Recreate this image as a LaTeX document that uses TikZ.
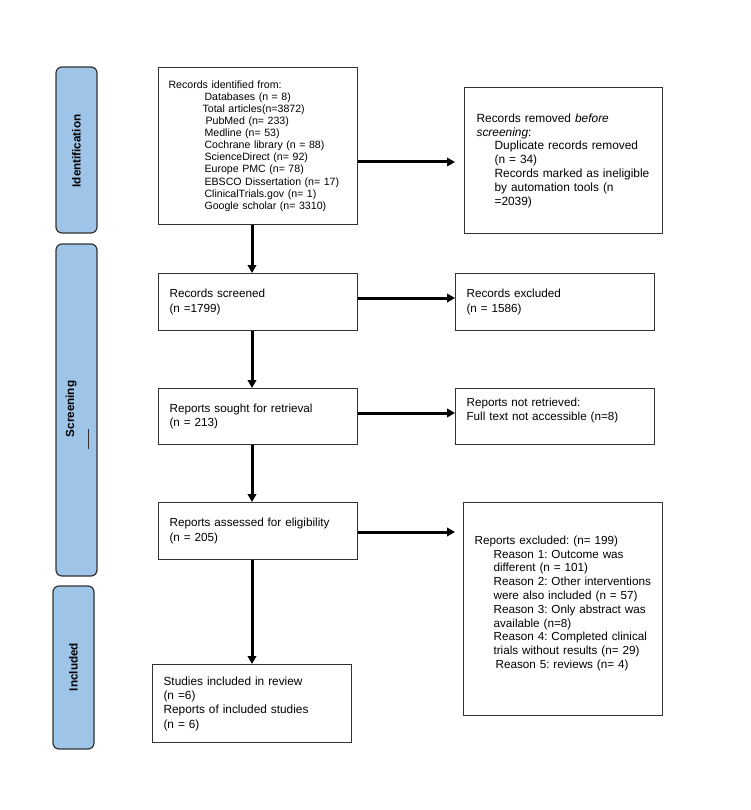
\documentclass[tikz,border=0pt]{standalone}
\usepackage{fontspec}
\setmainfont{Liberation Sans}
\usetikzlibrary{arrows.meta}
\definecolor{tabblue}{RGB}{158,196,231}
\definecolor{edge}{RGB}{50,50,50}
\frenchspacing
\begin{document}
\begin{tikzpicture}[x=1pt,y=-1pt,
  tabbox/.style={draw=edge, line width=1.2pt, fill=tabblue, rounded corners=6pt},
  tablabel/.style={rotate=90, font=\bfseries\fontsize{11.7}{13}\selectfont, inner sep=0pt},
  flowbox/.style={draw=edge, line width=1.1pt, anchor=north west, align=left, inner ysep=0pt},
  arr/.style={line width=3pt, -{Triangle[length=8pt,width=8.5pt]}}]
\useasboundingbox (0,0) rectangle (750,810);

% side tabs
\draw[tabbox] (56,67) rectangle (97,233);
\draw[tabbox] (56,244) rectangle (97,576);
\draw[tabbox] (53,586) rectangle (94,749);
\node[tablabel] (tident) at (76.5,151) {Identification};
\node[tablabel] (tscreen) at (71,409) {Screening};
\node[tablabel] (tincl) at (73.5,667) {Included};
\draw[edge, line width=1pt] (88,429) -- (88,449);

% boxes
\node[flowbox, minimum width=199pt, minimum height=157pt, inner xsep=10pt, text width=179pt,
  font=\fontsize{10.6}{12.1}\selectfont] (box1) at (158,67)
{Records identified from:\\
\hspace*{36pt}Databases (n = 8)\\
\hspace*{34pt}Total articles(n=3872)\\
\hspace*{37pt}PubMed (n= 233)\\
\hspace*{36pt}Medline (n= 53)\\
\hspace*{36pt}Cochrane library (n = 88)\\
\hspace*{36pt}ScienceDirect (n= 92)\\
\hspace*{36pt}Europe PMC (n= 78)\\
\hspace*{36pt}\mbox{EBSCO Dissertation (n= 17)}\\
\hspace*{36pt}ClinicalTrials.gov (n= 1)\\
\hspace*{36pt}Google scholar (n= 3310)};

\node[flowbox, minimum width=198pt, minimum height=146pt, inner xsep=12pt, text width=174pt,
  font=\fontsize{11.9}{13.8}\selectfont] (removed) at (464,87)
{Records removed \textit{before}\\
\textit{screening}:\\
\hspace*{18pt}\mbox{Duplicate records removed}\\
\hspace*{18pt}(n = 34)\\
\hspace*{18pt}\mbox{Records marked as ineligible}\\
\hspace*{18pt}\mbox{by automation tools (n}\\
\hspace*{18pt}=2039)};

\node[flowbox, minimum width=199pt, minimum height=57pt, inner xsep=11pt, text width=177pt,
  font=\fontsize{11.7}{15}\selectfont] (screened) at (158,273)
{Records screened\\(n =1799)};

\node[flowbox, minimum width=199pt, minimum height=57pt, inner xsep=11pt, text width=177pt,
  font=\fontsize{11.7}{15}\selectfont] (excluded) at (455,273)
{Records excluded\\(n = 1586)};

\node[flowbox, minimum width=199pt, minimum height=56pt, inner xsep=11pt, text width=177pt,
  font=\fontsize{11.7}{14.3}\selectfont] (sought) at (158,388)
{Reports sought for retrieval\\(n = 213)};

\node[flowbox, minimum width=199pt, minimum height=56pt, inner xsep=11pt, text width=177pt,
  font=\fontsize{11.7}{14}\selectfont] (notret) at (455,388)
{Reports not retrieved:\\\mbox{Full text not accessible (n=8)}\\\mbox{}};

\node[flowbox, minimum width=199pt, minimum height=57pt, inner xsep=11pt, text width=177pt,
  font=\fontsize{11.7}{14.7}\selectfont] (assessed) at (158,502)
{\mbox{Reports assessed for eligibility}\\(n = 205)};

\node[flowbox, minimum width=199pt, minimum height=213pt, inner xsep=11pt, text width=177pt,
  font=\fontsize{11.7}{13.8}\selectfont] (repexcl) at (463,502)
{\mbox{Reports excluded: (n= 199)}\\
\hspace*{19pt}\mbox{Reason 1: Outcome was}\\
\hspace*{19pt}\mbox{different (n = 101)}\\
\hspace*{19pt}\mbox{Reason 2: Other interventions}\\
\hspace*{19pt}\mbox{were also included (n = 57)}\\
\hspace*{19pt}\mbox{Reason 3: Only abstract was}\\
\hspace*{19pt}\mbox{available (n=8)}\\
\hspace*{19pt}\mbox{Reason 4: Completed clinical}\\
\hspace*{19pt}\mbox{trials without results (n= 29)}\\
\hspace*{21pt}\mbox{Reason 5: reviews (n= 4)}\\\mbox{}};

\node[flowbox, minimum width=199pt, minimum height=78pt, inner xsep=11pt, text width=177pt,
  font=\fontsize{11.85}{14.3}\selectfont] (studies) at (152,664)
{Studies included in review\\(n =6)\\\mbox{Reports of included studies}\\(n = 6)};

% connectors
\coordinate (ax) at (252,0);
\coordinate (y1) at (0,162);
\coordinate (y2) at (0,298);
\coordinate (y3) at (0,413);
\coordinate (y4) at (0,532);
\draw[arr] (box1.south -| ax) -- (screened.north -| ax);
\draw[arr] (screened.south -| ax) -- (sought.north -| ax);
\draw[arr] (sought.south -| ax) -- (assessed.north -| ax);
\draw[arr] (assessed.south -| ax) -- (studies.north -| ax);
\draw[arr, shorten >=9pt] (box1.east |- y1) -- (removed.west |- y1);
\draw[arr] (screened.east |- y2) -- (excluded.west |- y2);
\draw[arr] (sought.east |- y3) -- (notret.west |- y3);
\draw[arr, shorten >=8pt] (assessed.east |- y4) -- (repexcl.west |- y4);
\end{tikzpicture}
\end{document}
